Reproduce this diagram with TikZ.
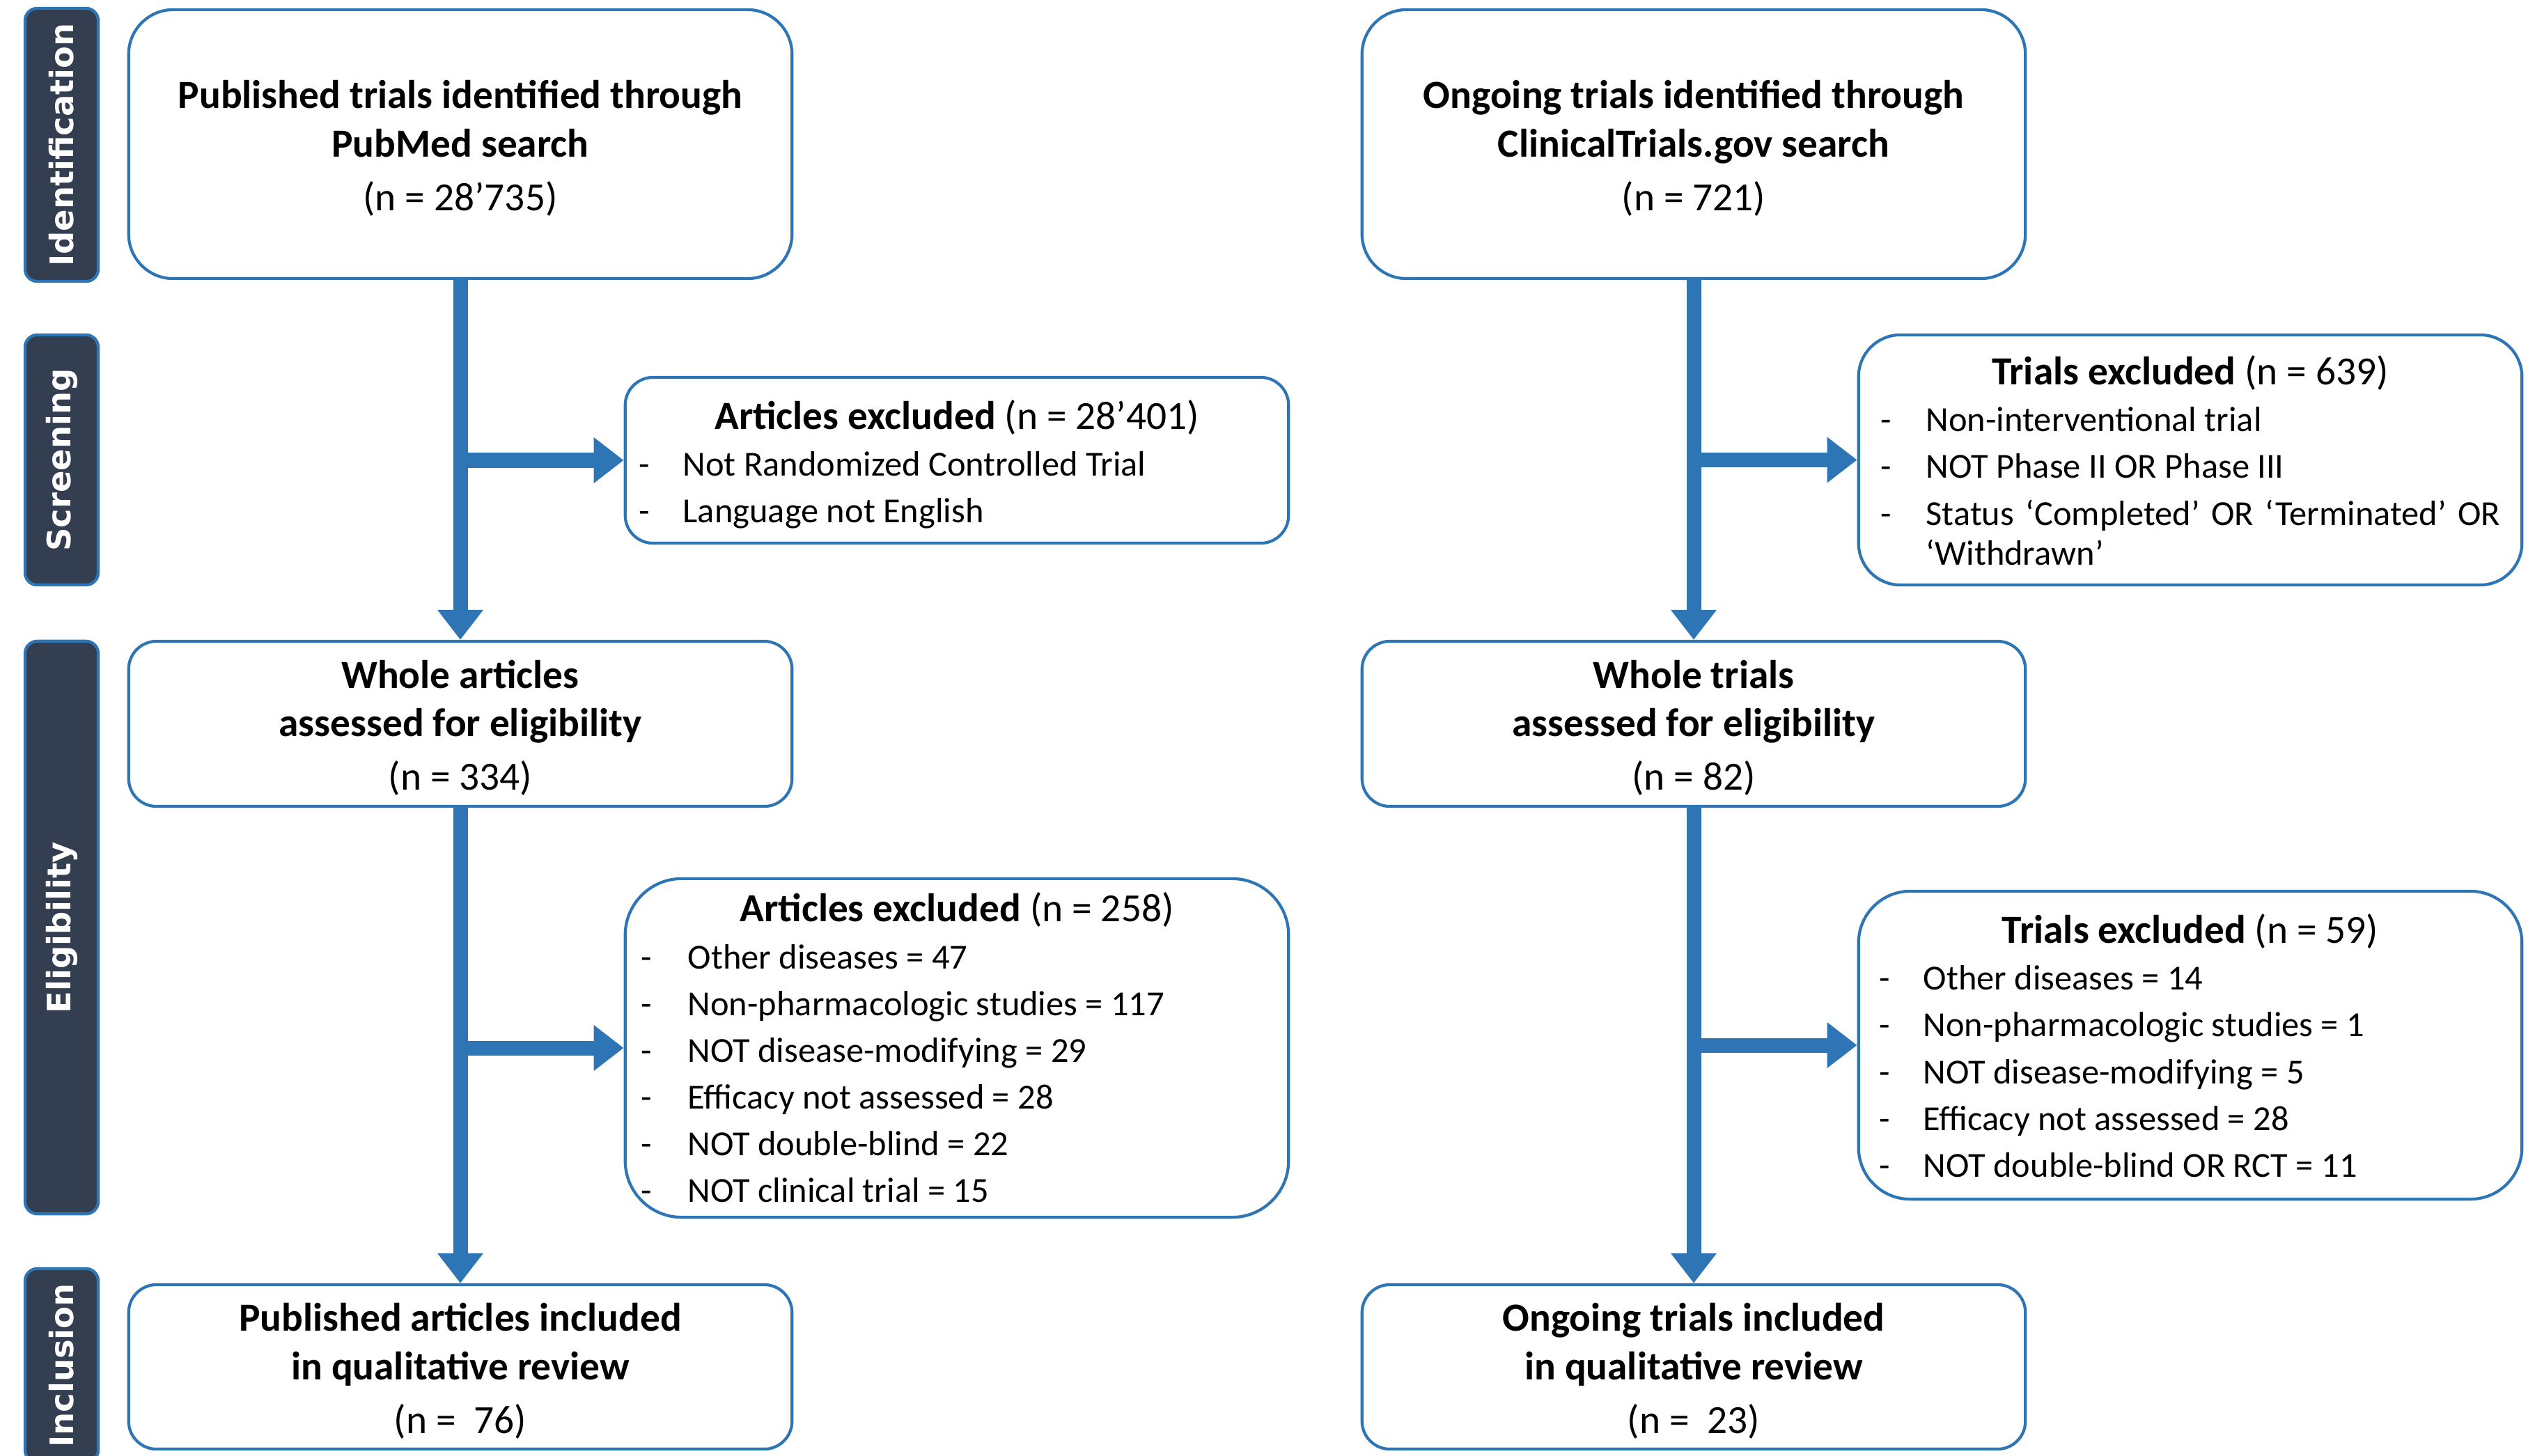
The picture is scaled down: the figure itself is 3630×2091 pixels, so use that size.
\documentclass[tikz,border=0pt]{standalone}
\usepackage{fontspec}
\setmainfont{Carlito}
\newfontfamily\lblfont{DejaVu Sans}
\usepackage{array}
\usetikzlibrary{arrows.meta}
\definecolor{flowblue}{HTML}{2E75B6}
\definecolor{lblfill}{HTML}{333F50}
\newcommand\hdfont{\fontsize{16.3}{19.1}\selectfont}
\newcommand\lowerby[2]{\raisebox{-#1}[\height][\depth]{#2}}
\begin{document}
\begin{tikzpicture}[x=0.01cm,y=-0.01cm,
  box/.style={draw=flowblue, line width=1.2pt, fill=white, inner sep=0pt, minimum width=9.52cm},
  mainbox/.style={box, font=\fontsize{16.3}{19.8}\selectfont},
  exbox/.style={box, font=\fontsize{14.35}{19.1}\selectfont},
  phase/.style={draw=flowblue, line width=1.2pt, fill=lblfill, inner sep=0pt, minimum width=1.05cm,
    rounded corners=0.175cm, text=white, font=\lblfont\bfseries\fontsize{13.2}{16}\selectfont},
  flow/.style={draw=flowblue, line width=0.21cm, -{Triangle[length=0.43cm,width=0.63cm]}}
]
\useasboundingbox (0,0) rectangle (3630,2091);

% phase labels
\node[phase, minimum height=3.92cm] (L1) at (88.5,208) {\rotatebox{90}{Identification}};
\node[phase, minimum height=3.59cm] (L2) at (88.5,660.5) {\rotatebox{90}{Screening}};
\node[phase, minimum height=8.22cm] (L3) at (88.5,1332) {\rotatebox{90}{Eligibility}};
\node[phase, minimum height=2.78cm] (L4) at (88.5,1961) {\rotatebox{90}{Inclusion}};

% main boxes
\node[mainbox, minimum height=3.86cm, rounded corners=0.64cm] (A) at (661,207)
  {\lowerby{0.08cm}{\begin{tabular}{@{}c@{}}\textbf{Published trials identified through}\\\textbf{PubMed search}\\[2pt](n = 28’735)\end{tabular}}};
\node[mainbox, minimum height=3.86cm, rounded corners=0.64cm] (B) at (2432,207)
  {\lowerby{0.08cm}{\begin{tabular}{@{}c@{}}\textbf{Ongoing trials identified through}\\\textbf{ClinicalTrials.gov search}\\[2pt](n = 721)\end{tabular}}};
\node[mainbox, minimum height=2.37cm, rounded corners=0.40cm] (C) at (661,1039.5)
  {\lowerby{0.08cm}{\begin{tabular}{@{}c@{}}\textbf{Whole articles}\\\textbf{assessed for eligibility}\\[2pt](n = 334)\end{tabular}}};
\node[mainbox, minimum height=2.37cm, rounded corners=0.40cm] (D) at (2432,1039.5)
  {\lowerby{0.08cm}{\begin{tabular}{@{}c@{}}\textbf{Whole trials}\\\textbf{assessed for eligibility}\\[2pt](n = 82)\end{tabular}}};
\node[mainbox, minimum height=2.36cm, rounded corners=0.40cm] (E) at (661,1963)
  {\lowerby{0.08cm}{\begin{tabular}{@{}c@{}}\textbf{Published articles included}\\\textbf{in qualitative review}\\[2pt](n =~~76)\end{tabular}}};
\node[mainbox, minimum height=2.36cm, rounded corners=0.40cm] (F) at (2432,1963)
  {\lowerby{0.08cm}{\begin{tabular}{@{}c@{}}\textbf{Ongoing trials included}\\\textbf{in qualitative review}\\[2pt](n =~~23)\end{tabular}}};

% exclusion boxes
\node[exbox, minimum height=2.38cm, rounded corners=0.40cm] (X1) at (1374,661)
  {\lowerby{0.09cm}{\begin{tabular}{@{\hspace{0.20cm}}p{0.63cm}@{}p{8.69cm}@{}}
   \multicolumn{2}{@{}c@{}}{\hdfont\textbf{Articles excluded} (n = 28’401)}\\
   - & Not Randomized Controlled Trial\\
   - & Language not English
   \end{tabular}}};
\node[exbox, minimum height=3.59cm, rounded corners=0.60cm] (X2) at (3145,660.5)
  {\lowerby{0.08cm}{\begin{tabular}{@{\hspace{0.32cm}}p{0.65cm}@{}p{8.55cm}@{}}
   \multicolumn{2}{@{}c@{}}{\hdfont\textbf{Trials excluded} (n = 639)}\\
   - & Non-interventional trial\\
   - & NOT Phase II OR Phase III\\
   - & \makebox[8.24cm][s]{Status ‘Completed’ OR ‘Terminated’ OR}\\[-2.8pt]
     & ‘Withdrawn’
   \end{tabular}}};
\node[exbox, minimum height=4.86cm, rounded corners=0.81cm] (X3) at (1374,1505)
  {\lowerby{0.07cm}{\begin{tabular}{@{\hspace{0.23cm}}p{0.67cm}@{}p{8.62cm}@{}}
   \multicolumn{2}{@{}c@{}}{\hdfont\textbf{Articles excluded} (n = 258)}\\
   - & Other diseases = 47\\
   - & Non-pharmacologic studies = 117\\
   - & NOT disease-modifying = 29\\
   - & Efficacy not assessed = 28\\
   - & NOT double-blind = 22\\
   - & NOT clinical trial = 15
   \end{tabular}}};
\node[exbox, minimum height=4.42cm, rounded corners=0.74cm] (X4) at (3145,1501)
  {\lowerby{0.08cm}{\begin{tabular}{@{\hspace{0.30cm}}p{0.63cm}@{}p{8.59cm}@{}}
   \multicolumn{2}{@{}c@{}}{\hdfont\textbf{Trials excluded} (n = 59)}\\
   - & Other diseases = 14\\
   - & Non-pharmacologic studies = 1\\
   - & NOT disease-modifying = 5\\
   - & Efficacy not assessed = 28\\
   - & NOT double-blind OR RCT = 11
   \end{tabular}}};

% connectors
\draw[flow] (A.south) -- (C.north);
\draw[flow] (A.south |- X1.west) -- (X1.west);
\draw[flow] (B.south) -- (D.north);
\draw[flow] (B.south |- X2.west) -- (X2.west);
\draw[flow] (C.south) -- (E.north);
\draw[flow] (C.south |- X3.west) -- (X3.west);
\draw[flow] (D.south) -- (F.north);
\draw[flow] (D.south |- X4.west) -- (X4.west);
\end{tikzpicture}
\end{document}
